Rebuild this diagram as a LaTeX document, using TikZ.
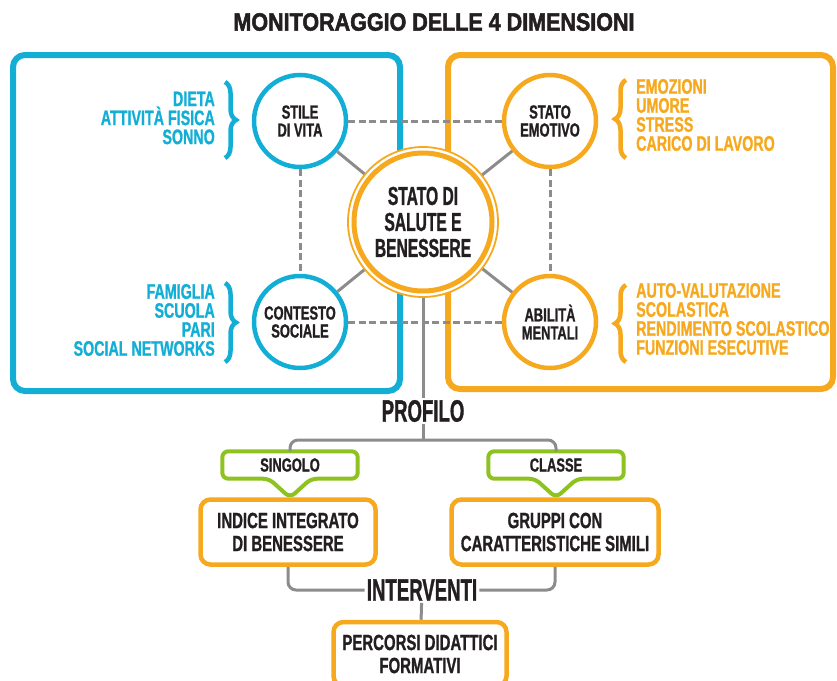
\documentclass[tikz,border=0pt]{standalone}
\usepackage{fontspec}
\setmainfont{Liberation Sans}[FakeStretch=0.68, BoldFeatures={FakeBold=1}]
\newfontfamily\titlefont{Liberation Sans}[FakeStretch=0.86, BoldFeatures={FakeBold=2}]
\newfontfamily\strettafont{Liberation Sans}[FakeStretch=0.6, BoldFeatures={FakeBold=1}]
\usetikzlibrary{calc,backgrounds,decorations.pathreplacing}
\definecolor{azzurro}{HTML}{12AED6}
\definecolor{arancio}{HTML}{F6A91E}
\definecolor{verde}{HTML}{8DC21F}
\definecolor{grigio}{HTML}{8C8C8C}
\definecolor{nero}{HTML}{231F20}
\tikzset{
  dim/.style={circle, draw, line width=4.5pt, fill=white, minimum size=92pt, inner sep=0pt,
    align=center, text=nero, font=\bfseries\fontsize{19}{18}\selectfont},
  voce/.style={inner sep=0pt, font=\bfseries\fontsize{21}{19}\selectfont},
  link/.style={grigio, line width=3pt},
  tratto/.style={link, dash pattern=on 7pt off 3.5pt},
  graffa/.style={decorate, decoration={brace, amplitude=11pt}, line width=4.5pt},
  esito/.style={rectangle, rounded corners=10pt, draw=arancio, line width=4.5pt, fill=white,
    align=center, text=nero, font=\bfseries\fontsize{22}{23}\selectfont},
  etichetta/.style={minimum width=135pt, minimum height=27pt, inner sep=0pt, text=nero,
    font=\bfseries\fontsize{19}{18}\selectfont},
  fumetto/.style={verde, line width=4pt, rounded corners=6pt},
  grande/.style={inner sep=2pt, text=nero, font=\strettafont\bfseries\fontsize{31}{30}\selectfont}
}

\begin{document}
\begin{tikzpicture}[x=1pt,y=-1pt]
    \clip (0,0) rectangle (837,680);
    \node[text=nero, font=\titlefont\bfseries\fontsize{25}{26}\selectfont] (titolo) at (434,22) {MONITORAGGIO DELLE 4 DIMENSIONI};

    \node[circle, draw=arancio, line width=1.8pt, fill=white, minimum size=150pt] (anello) at (423,222) {};
    \node[circle, draw=arancio, line width=5pt, fill=white, minimum size=138pt, inner sep=0pt, align=center,
      text=nero, font=\strettafont\bfseries\fontsize{26}{26}\selectfont] (centro) at (423,222) {STATO DI\\SALUTE E\\BENESSERE};
    \node[dim, draw=azzurro] (stile) at (300,121) {STILE\\DI VITA};
    \node[dim, draw=azzurro] (contesto) at (300,322) {CONTESTO\\SOCIALE};
    \node[dim, draw=arancio] (emotivo) at (550,121) {STATO\\EMOTIVO};
    \node[dim, draw=arancio] (mentali) at (550,322) {ABILITÀ\\MENTALI};

    \node[voce, text=azzurro, anchor=east, align=right] (stilevoci) at (215,118) {DIETA\\ATTIVITÀ FISICA\\SONNO};
    \node[voce, text=azzurro, anchor=east, align=right] (contestovoci) at (215,320) {FAMIGLIA\\SCUOLA\\PARI\\SOCIAL NETWORKS};
    \node[voce, text=arancio, anchor=west, align=left] (emotivovoci) at (636,115) {EMOZIONI\\UMORE\\STRESS\\CARICO DI LAVORO};
    \node[voce, text=arancio, anchor=west, align=left] (mentalivoci) at (636,319) {AUTO-VALUTAZIONE\\SCOLASTICA\\RENDIMENTO SCOLASTICO\\FUNZIONI ESECUTIVE};

    \draw[graffa, azzurro] (225,82) -- (225,158);
    \draw[graffa, azzurro] (225,283) -- (225,362);
    \draw[graffa, arancio] (626,158) -- (626,80);
    \draw[graffa, arancio] (626,362) -- (626,285);

    \begin{scope}[on background layer]
        \draw[azzurro, line width=6pt, rounded corners=12pt] (13,55) rectangle (400,391);
        \draw[arancio, line width=6pt, rounded corners=12pt] (448,55) rectangle (833,389);
    \end{scope}

    \draw[link] (stile) -- (anello);
    \draw[link] (contesto) -- (anello);
    \draw[link] (emotivo) -- (anello);
    \draw[link] (mentali) -- (anello);
    \draw[tratto] (stile) -- (emotivo);
    \draw[tratto] (stile) -- (contesto);
    \draw[tratto] (contesto) -- (mentali);
    \draw[tratto] (emotivo) -- (mentali);

    \node[grande] (profilo) at (423,411) {PROFILO};
    \coordinate (bivio) at (423,440);
    \draw[link] (anello) -- (profilo);
    \draw[link] (profilo) -- (bivio);

    \node[etichetta] (singolo) at (290,465) {SINGOLO};
    \node[etichetta] (classe) at (556,465) {CLASSE};
    \foreach \t in {singolo,classe}
        \draw[fumetto] (\t.north west) -- (\t.north east) -- (\t.south east) -- ($(\t.south)+(21,0)$)
            -- ($(\t.south)+(0,19)$) -- ($(\t.south)+(-21,0)$) -- (\t.south west) -- cycle;
    \draw[link, rounded corners=8pt] (singolo.north) |- (bivio) -| (classe.north);

    \node[esito, minimum width=175pt, minimum height=65pt] (indice) at (288,532) {INDICE INTEGRATO\\DI BENESSERE};
    \node[esito, minimum width=207pt, minimum height=65pt] (gruppi) at (555,532) {GRUPPI CON\\CARATTERISTICHE SIMILI};
    \node[grande] (interventi) at (422,590) {INTERVENTI};
    \node[esito, minimum width=173pt, minimum height=64pt] (percorsi) at (420,654) {PERCORSI DIDATTICI\\FORMATIVI};
    \draw[link, rounded corners=8pt] (indice.south) |- (interventi.west);
    \draw[link, rounded corners=8pt] (gruppi.south) |- (interventi.east);
    \draw[link] (interventi) -- (percorsi);
\end{tikzpicture}
\end{document}
